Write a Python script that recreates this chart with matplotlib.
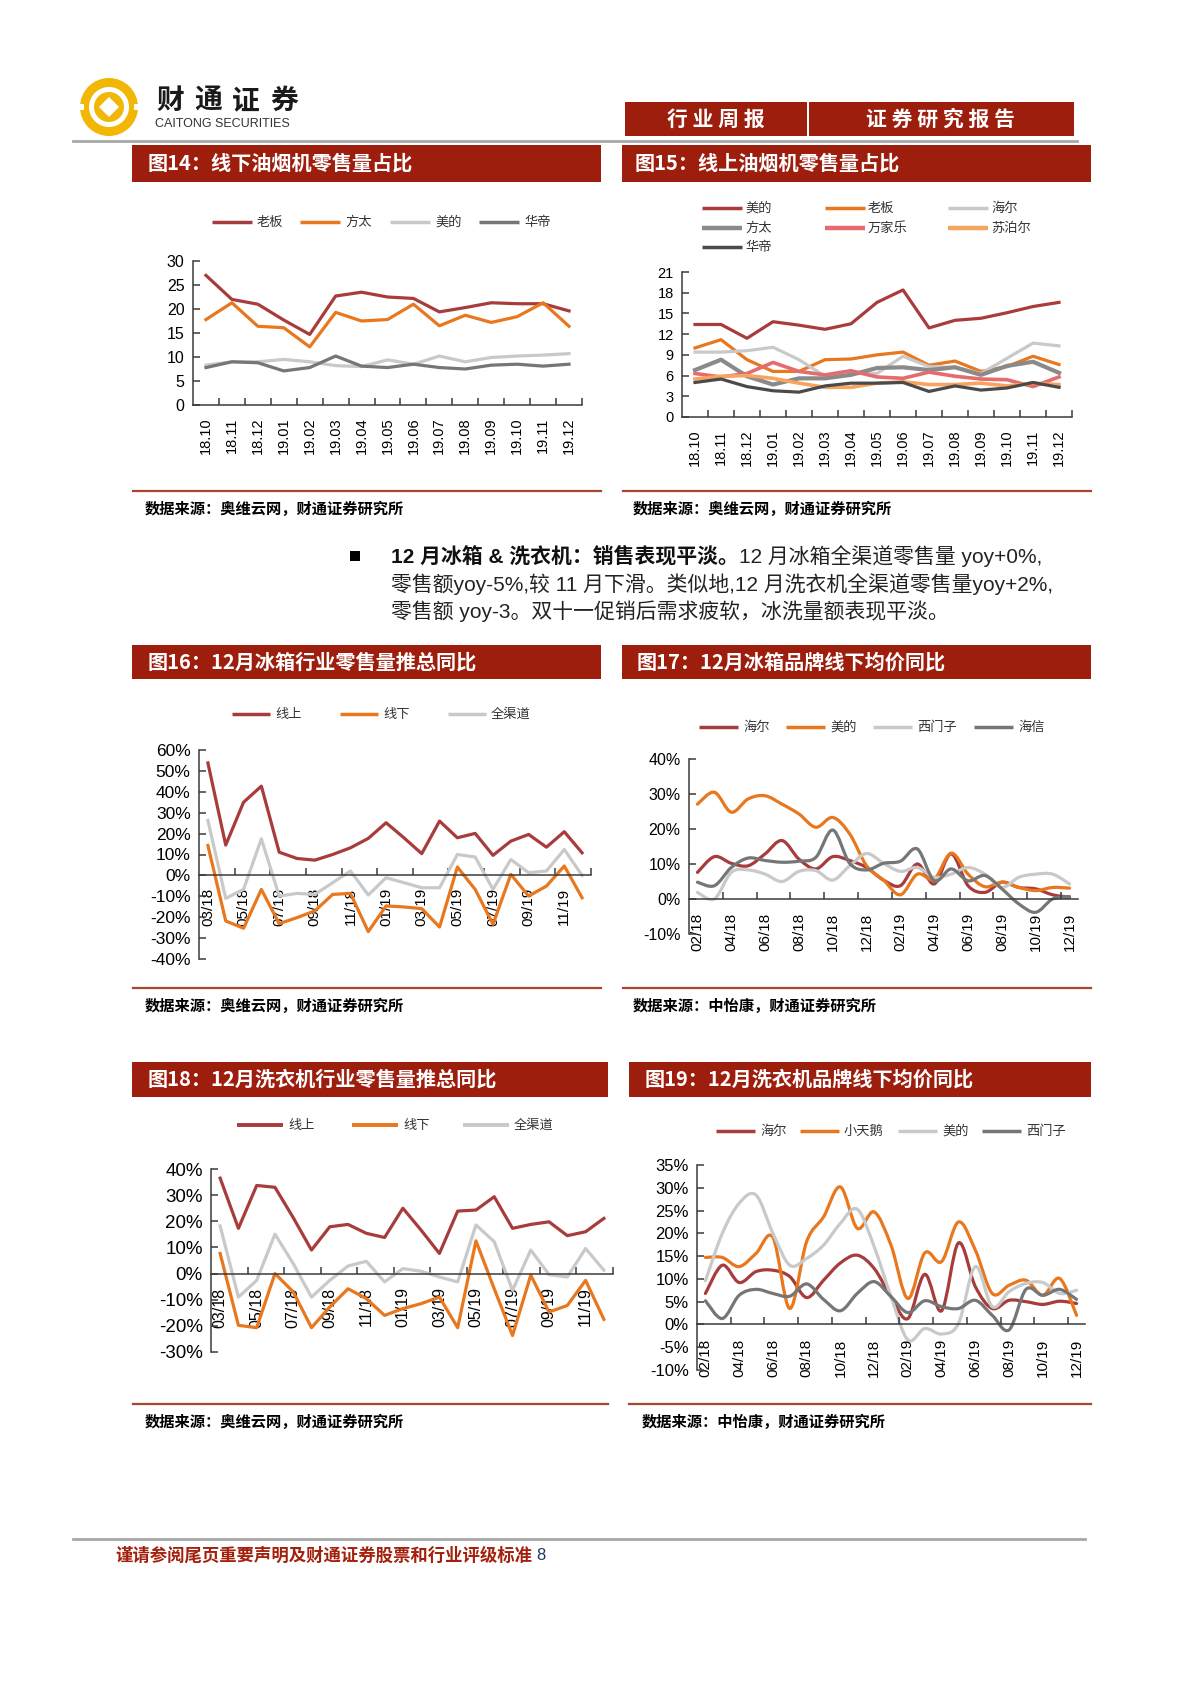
import numpy as np
import matplotlib
matplotlib.use('Agg')
import matplotlib.pyplot as plt
from matplotlib.path import Path
from matplotlib.patches import PathPatch, Rectangle, Circle, Polygon

plt.rcParams['font.family'] = ['Liberation Sans', 'Noto Sans CJK SC']
CJK = ['Noto Sans CJK SC', 'Liberation Sans']

# ---- 图14 线下油烟机零售量占比 ----
months14 = ['18.10', '18.11', '18.12', '19.01', '19.02', '19.03', '19.04', '19.05',
            '19.06', '19.07', '19.08', '19.09', '19.10', '19.11', '19.12']
off_laoban = [27.0, 22.0, 21.0, 17.7, 14.7, 22.7, 23.5, 22.5, 22.2, 19.4, 20.3, 21.3, 21.1, 21.1, 19.6]
off_fangtai = [17.8, 21.3, 16.4, 16.1, 12.1, 19.3, 17.5, 17.8, 21.0, 16.5, 18.7, 17.2, 18.4, 21.3, 16.4]
off_midea = [8.3, 9.0, 9.0, 9.5, 9.0, 8.2, 8.0, 9.4, 8.5, 10.2, 9.0, 9.9, 10.2, 10.4, 10.7]
off_vatti = [7.8, 9.0, 8.8, 7.1, 7.8, 10.2, 8.1, 7.8, 8.5, 7.8, 7.5, 8.3, 8.5, 8.1, 8.5]

# ---- 图15 线上油烟机零售量占比 ----
on_midea = [13.4, 13.4, 11.4, 13.8, 13.3, 12.7, 13.5, 16.6, 18.4, 12.9, 14.0, 14.3, 15.1, 16.0, 16.6]
on_laoban = [10.0, 11.2, 8.3, 6.6, 6.6, 8.3, 8.4, 9.0, 9.4, 7.5, 8.1, 6.6, 7.3, 8.8, 7.6]
on_haier = [9.4, 9.4, 9.6, 10.1, 8.3, 5.9, 6.3, 6.3, 8.8, 7.3, 7.2, 6.3, 8.5, 10.7, 10.3]
on_fangtai = [6.8, 8.3, 5.9, 4.7, 5.6, 5.6, 6.1, 7.1, 7.2, 6.8, 7.2, 6.1, 7.4, 8.0, 6.4]
on_wanjiale = [6.3, 5.8, 6.3, 7.9, 6.6, 6.1, 6.7, 5.8, 5.6, 6.5, 5.9, 5.5, 5.4, 4.4, 5.8]
on_supor = [5.5, 5.9, 6.0, 5.6, 4.9, 4.3, 4.3, 4.9, 5.1, 4.7, 4.7, 4.9, 4.5, 4.9, 4.7]
on_vatti = [5.0, 5.5, 4.4, 3.8, 3.6, 4.5, 4.9, 4.9, 5.0, 3.7, 4.5, 3.9, 4.2, 5.0, 4.3]

# ---- 图16 / 图18 月份 03/18 - 12/19 ----
months22 = ['03/18', '04/18', '05/18', '06/18', '07/18', '08/18', '09/18', '10/18', '11/18',
            '12/18', '01/19', '02/19', '03/19', '04/19', '05/19', '06/19', '07/19', '08/19',
            '09/19', '10/19', '11/19', '12/19']
fr_online = [53.8, 14.5, 35.0, 42.7, 11.1, 8.1, 7.3, 10.0, 13.2, 17.7, 25.2, 18.0, 10.4, 26.0,
             18.0, 20.1, 9.6, 16.4, 19.6, 13.5, 20.9, 10.8]
fr_offline = [14.3, -21.8, -25.3, -6.7, -23.1, -20.2, -17.0, -9.1, -8.6, -26.9, -14.6, -15.1,
              -15.9, -24.7, 4.0, -6.7, -23.4, 0.5, -9.9, -5.1, 4.5, -10.7]
fr_all = [26.3, -11.0, -6.7, 17.5, -9.9, -8.6, -9.1, -3.5, 2.1, -9.4, -1.1, -3.5, -5.9, -5.9,
          10.0, 8.8, -6.7, 7.6, 1.3, 2.1, 12.4, 0.0]

wm_online = [36.5, 17.3, 33.7, 33.0, 21.4, 9.0, 17.9, 18.8, 15.4, 13.8, 25.0, 16.6, 7.7, 23.9,
             24.3, 29.4, 17.3, 18.8, 19.8, 14.5, 16.0, 21.1]
wm_offline = [7.7, -19.8, -20.7, 0.0, -7.0, -20.7, -12.8, -5.8, -9.6, -16.0, -13.4, -11.5, -9.0,
              -20.7, 12.5, -5.8, -23.7, -0.6, -14.7, -12.2, -2.6, -17.5]
wm_all = [18.2, -9.0, -2.6, 15.1, 3.8, -9.0, -2.6, 2.9, 4.7, -3.2, 1.9, 0.9, -1.3, -3.2, 18.6,
          12.2, -6.4, 9.0, -0.4, -1.3, 9.6, 1.3]

# ---- 图17 / 图19 月份 02/18 - 12/19 ----
months23 = ['02/18'] + months22
fp_haier = [7.6, 12.1, 10.2, 9.5, 12.9, 16.7, 11.4, 8.6, 12.1, 11.0, 9.0, 5.4, 3.8, 10.0, 4.3,
            12.9, 3.8, 1.9, 4.8, 3.3, 2.9, 1.2, 0.5]
fp_midea = [27.1, 30.5, 24.8, 28.6, 29.5, 27.1, 24.3, 20.5, 23.3, 18.6, 9.5, 5.4, 1.2, 7.1, 5.7,
            13.1, 7.1, 3.5, 4.8, 3.3, 2.4, 3.3, 3.1]
fp_siemens = [1.9, 0.0, 7.6, 8.3, 7.1, 5.0, 7.9, 8.1, 5.4, 9.5, 13.0, 10.2, 7.9, 9.0, 6.2, 7.1,
              9.0, 7.1, 3.3, 6.2, 7.1, 7.1, 4.3]
fp_hisense = [4.8, 3.8, 9.0, 11.7, 11.0, 10.5, 10.8, 11.9, 19.7, 10.2, 8.3, 10.2, 10.8, 14.3, 5.2,
              8.6, 5.2, 6.7, 2.9, -1.4, -3.8, 0.0, 0.7]

wp_haier = [6.8, 13.0, 9.2, 11.6, 11.9, 10.5, 5.9, 9.7, 13.5, 15.2, 12.3, 6.1, 1.3, 11.0, 3.0,
            17.9, 8.3, 3.5, 5.3, 5.0, 4.4, 5.1, 4.6]
wp_swan = [14.7, 14.7, 12.7, 15.6, 19.1, 3.5, 18.2, 23.6, 30.2, 21.1, 24.7, 17.4, 5.7, 15.7, 13.8,
           22.5, 16.3, 6.8, 8.6, 9.7, 6.4, 10.1, 2.0]
wp_midea = [9.6, 20.0, 26.6, 28.4, 20.0, 13.0, 14.5, 17.4, 22.2, 25.3, 17.1, 6.1, -3.4, -0.9, -2.1,
            0.2, 12.7, 3.9, 7.2, 9.0, 9.2, 6.8, 7.5]
wp_siemens = [5.2, 1.3, 6.4, 7.7, 6.8, 6.2, 8.9, 5.5, 3.0, 6.8, 9.4, 6.1, 2.6, 5.2, 3.9, 3.5, 5.3,
              2.0, -1.2, 7.7, 6.4, 7.7, 5.5]

RED = '#A83C3C'
ORANGE = '#E8771E'
LGRAY = '#C9C9C9'
DGRAY = '#767676'
BAR = '#9E1E0E'
LINE = '#A8472F'

W, H = 1200, 1698
fig = plt.figure(figsize=(12, 16.98), dpi=100)
bg = fig.add_axes([0, 0, 1, 1])
bg.set_xlim(0, W)
bg.set_ylim(H, 0)
bg.axis('off')


def box(x0, y0, x1, y1):
    return fig.add_axes([x0 / W, 1 - y1 / H, (x1 - x0) / W, (y1 - y0) / H])


def smooth(ax, ys, color, lw=2.3):
    pts = np.column_stack([np.arange(len(ys)), ys]).astype(float)
    n = len(pts)
    verts = [pts[0]]
    codes = [Path.MOVETO]
    for i in range(n - 1):
        p0 = pts[i - 1] if i > 0 else pts[i]
        p1, p2 = pts[i], pts[i + 1]
        p3 = pts[i + 2] if i + 2 < n else pts[i + 1]
        verts += [p1 + (p2 - p0) / 6, p2 - (p3 - p1) / 6, p2]
        codes += [Path.CURVE4] * 3
    ax.add_patch(PathPatch(Path(verts, codes), fill=False, edgecolor=color, lw=lw,
                           capstyle='round', joinstyle='round'))


def setup(ax, n, labels, step, ylo, yhi, ystep, pct, yfs, xfs, zero=False, pad=10):
    ax.set_xlim(-0.5, n - 0.5)
    ax.set_ylim(ylo, yhi)
    for s in ['top', 'right']:
        ax.spines[s].set_visible(False)
    for s in ['left', 'bottom']:
        ax.spines[s].set_color('#3a3a3a')
        ax.spines[s].set_linewidth(1.1)
    if zero:
        ax.spines['bottom'].set_position(('data', 0))
    yt = np.arange(ylo, yhi + ystep / 2, ystep)
    ax.set_yticks(yt)
    ax.set_yticklabels([f'{v:g}%' if pct else f'{v:g}' for v in yt], fontsize=yfs)
    ax.set_xticks(range(0, n, step))
    ax.set_xticklabels(labels[::step], rotation=90, fontsize=xfs)
    ax.set_xticks(np.arange(step - 0.5, n, step), minor=True)
    ax.tick_params(axis='x', which='major', length=0, pad=pad)
    ax.tick_params(axis='x', which='minor', direction='in', length=5, width=1.1, color='#3a3a3a')
    ax.tick_params(axis='y', direction='in', length=5, width=1.1, color='#3a3a3a', pad=6)
    ax.patch.set_alpha(0)


def title_bar(x0, y0, x1, y1, text, tx):
    bg.add_patch(Rectangle((x0, y0), x1 - x0, y1 - y0, color=BAR, lw=0))
    bg.text(tx, (y0 + y1) / 2, text, color='white', fontsize=14.5, fontweight='bold',
            family=CJK, va='center', ha='left')


def source(x0, x1, y, text, tx):
    bg.plot([x0, x1], [y, y], color=LINE, lw=1.6)
    bg.text(tx, y + 18, text, fontsize=11, fontweight='bold', family=CJK, va='center')


def legend(items, length=40, gap=5):
    for x, y, lab, col, lw in items:
        bg.plot([x, x + length], [y, y], color=col, lw=lw, solid_capstyle='butt')
        bg.text(x + length + gap, y, lab, fontsize=9.5, family=CJK, va='center', color='#333333')


# ---- header ----
GOLD = '#F2B705'
bg.add_patch(Circle((109, 107), 29, color=GOLD, lw=0))
bg.add_patch(Circle((109, 107), 20, color='white', lw=0))
bg.add_patch(Circle((109, 107), 15, color=GOLD, lw=0))
bg.add_patch(Polygon([(109, 97), (119, 107), (109, 117), (99, 107)], color='white', lw=0))
bg.add_patch(Rectangle((78, 104), 6, 6, color='white', lw=0))
bg.add_patch(Rectangle((134, 104), 6, 6, color='white', lw=0))
for i, ch in enumerate('财通证券'):
    bg.text(156 + i * 38, 101, ch, fontsize=20, fontweight='bold', family=CJK,
            va='center', ha='left', color='#1a1a1a')
bg.text(155, 124, 'CAITONG SECURITIES', fontsize=9, va='center', ha='left', color='#333333')
bg.add_patch(Rectangle((625, 102), 182, 34, color=BAR, lw=0))
bg.add_patch(Rectangle((809, 102), 265, 34, color=BAR, lw=0))
bg.text(716, 119, '行 业 周 报', color='white', fontsize=15, fontweight='bold', family=CJK,
        ha='center', va='center')
bg.text(941, 119, '证 券 研 究 报 告', color='white', fontsize=15, fontweight='bold', family=CJK,
        ha='center', va='center')
bg.plot([73, 1077], [141, 141], color='#a8a8a8', lw=2)

# ---- 图14 ----
title_bar(132, 145, 601, 182, '图14：线下油烟机零售量占比', 148)
ax = box(193, 261, 582, 405)
setup(ax, 15, months14, 1, 0, 30, 5, False, 11.5, 10.5, pad=9)
ax.plot(off_laoban, color=RED, lw=2.3)
ax.plot(off_fangtai, color=ORANGE, lw=2.3)
ax.plot(off_midea, color=LGRAY, lw=2.3)
ax.plot(off_vatti, color=DGRAY, lw=2.3)
legend([(212, 222, '老板', RED, 2.5), (300, 222, '方太', ORANGE, 2.5),
        (390, 222, '美的', LGRAY, 2.5), (479, 222, '华帝', DGRAY, 2.5)])
source(133, 601, 491, '数据来源：奥维云网，财通证券研究所', 145)

# ---- 图15 ----
title_bar(622, 145, 1091, 182, '图15：线上油烟机零售量占比', 635)
ax = box(682, 272, 1072, 417)
setup(ax, 15, months14, 1, 0, 21, 3, False, 10.5, 10.5, pad=9)
ax.plot(on_midea, color=RED, lw=2.3)
ax.plot(on_laoban, color=ORANGE, lw=2.3)
ax.plot(on_haier, color=LGRAY, lw=2.3)
ax.plot(on_fangtai, color='#8A8A8A', lw=3.0)
ax.plot(on_wanjiale, color='#E56B6F', lw=2.6)
ax.plot(on_supor, color='#F6A45E', lw=2.6)
ax.plot(on_vatti, color='#4A4A4A', lw=2.3)
legend([(702, 208, '美的', RED, 2.5), (825, 208, '老板', ORANGE, 2.5),
        (948, 208, '海尔', LGRAY, 2.5), (702, 228, '方太', '#8A8A8A', 3.2),
        (825, 228, '万家乐', '#E56B6F', 3.2), (948, 228, '苏泊尔', '#F6A45E', 3.2),
        (702, 247, '华帝', '#4A4A4A', 2.5)], gap=3)
source(623, 1091, 491, '数据来源：奥维云网，财通证券研究所', 633)

# ---- 中间文字 ----
bg.add_patch(Rectangle((350, 551), 10, 10, color='black', lw=0))
fs = 15
t = bg.text(391, 556, '12 月冰箱 & 洗衣机：销售表现平淡。', fontsize=fs, fontweight='bold',
            va='center', ha='left', color='#111111')
fig.canvas.draw()
bb = t.get_window_extent(renderer=fig.canvas.get_renderer())
bg.text(391 + bb.width, 556, '12 月冰箱全渠道零售量 yoy+0%,', fontsize=fs, va='center',
        ha='left', color='#222222')
bg.text(391, 584, '零售额yoy-5%,较 11 月下滑。类似地,12 月洗衣机全渠道零售量yoy+2%,',
        fontsize=fs, va='center', ha='left', color='#222222')
bg.text(391, 611, '零售额 yoy-3。双十一促销后需求疲软，冰洗量额表现平淡。', fontsize=fs,
        va='center', ha='left', color='#222222')

# ---- 图16 ----
title_bar(132, 645, 601, 679, '图16：12月冰箱行业零售量推总同比', 148)
ax = box(199, 750, 591, 959)
setup(ax, 22, months22, 2, -40, 60, 10, True, 12.5, 11, zero=True, pad=9)
ax.plot(fr_online, color=RED, lw=2.3)
ax.plot(fr_offline, color=ORANGE, lw=2.3)
ax.plot(fr_all, color=LGRAY, lw=2.3)
legend([(232, 714, '线上', RED, 2.5), (340, 714, '线下', ORANGE, 2.5),
        (448, 714, '全渠道', LGRAY, 2.5)], length=38)
source(133, 601, 988, '数据来源：奥维云网，财通证券研究所', 145)

# ---- 图17 ----
title_bar(622, 645, 1091, 679, '图17：12月冰箱品牌线下均价同比', 637)
ax = box(689, 759, 1078, 934)
setup(ax, 23, months23, 2, -10, 40, 10, True, 11.5, 11, zero=True, pad=10)
smooth(ax, fp_haier, RED)
smooth(ax, fp_midea, ORANGE)
smooth(ax, fp_siemens, LGRAY)
smooth(ax, fp_hisense, DGRAY)
legend([(699, 727, '海尔', RED, 2.5), (786, 727, '美的', ORANGE, 2.5),
        (873, 727, '西门子', LGRAY, 2.5), (974, 727, '海信', DGRAY, 2.5)], length=39)
source(623, 1091, 988, '数据来源：中怡康，财通证券研究所', 633)

# ---- 图18 ----
title_bar(132, 1062, 608, 1097, '图18：12月洗衣机行业零售量推总同比', 148)
ax = box(211, 1169, 613, 1352)
setup(ax, 22, months22, 2, -30, 40, 10, True, 13.5, 11.5, zero=True, pad=10)
ax.plot(wm_online, color=RED, lw=2.3)
ax.plot(wm_offline, color=ORANGE, lw=2.3)
ax.plot(wm_all, color=LGRAY, lw=2.3)
legend([(237, 1125, '线上', RED, 2.8), (352, 1125, '线下', ORANGE, 2.8),
        (463, 1125, '全渠道', LGRAY, 2.8)], length=46)
source(133, 608, 1404, '数据来源：奥维云网，财通证券研究所', 145)

# ---- 图19 ----
title_bar(629, 1062, 1091, 1097, '图19：12月洗衣机品牌线下均价同比', 645)
ax = box(697, 1165, 1085, 1370)
setup(ax, 23, months23, 2, -10, 35, 5, True, 12, 11, zero=True, pad=10)
smooth(ax, wp_haier, RED)
smooth(ax, wp_swan, ORANGE)
smooth(ax, wp_midea, LGRAY)
smooth(ax, wp_siemens, DGRAY)
legend([(716, 1131, '海尔', RED, 2.5), (800, 1131, '小天鹅', ORANGE, 2.5),
        (898, 1131, '美的', LGRAY, 2.5), (982, 1131, '西门子', DGRAY, 2.5)], length=39)
source(629, 1091, 1404, '数据来源：中怡康，财通证券研究所', 642)

# ---- footer ----
bg.plot([73, 1085], [1539, 1539], color='#a8a8a8', lw=2)
ft = bg.text(115, 1556, '谨请参阅尾页重要声明及财通证券股票和行业评级标准', fontsize=12.5,
             fontweight='bold', family=CJK, color='#A3200C', va='center', ha='left')
fig.canvas.draw()
fb = ft.get_window_extent(renderer=fig.canvas.get_renderer())
bg.text(115 + fb.width + 4, 1556, '8', fontsize=12, color='#1F3864', va='center', ha='left')

fig.savefig('out.png', dpi=100)
